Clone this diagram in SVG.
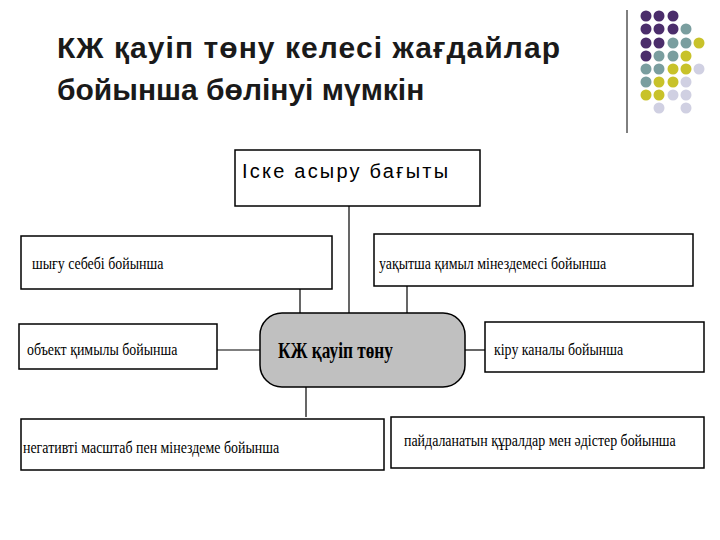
<svg xmlns="http://www.w3.org/2000/svg" width="720" height="540" viewBox="0 0 720 540">
<style>
.b{fill:#fff;stroke:#000;stroke-width:1.5}
.t{font-family:"Liberation Serif",serif;font-size:16px;fill:#000}
.c{stroke:#000;stroke-width:1.2;fill:none}
.p{fill:#4b2d6b}.q{fill:#7a9e9f}.y{fill:#c8c22a}.l{fill:#d0d0e2}
</style>
<rect width="720" height="540" fill="#fff"/>
<g id="title" font-family="Liberation Sans,sans-serif" font-size="30" font-weight="bold" fill="#1a1a1a">
<text x="57" y="58" textLength="503">КЖ қауіп төну келесі жағдайлар</text>
<text x="57" y="100">бойынша бөлінуі мүмкін</text>
</g>
<g id="deco">
<line x1="627" y1="10" x2="627" y2="133" stroke="#000" stroke-width="1"/>
<circle class="p" cx="646" cy="16" r="5.5"/><circle class="p" cx="659" cy="16" r="5.5"/><circle class="p" cx="673" cy="16" r="5.5"/>
<circle class="p" cx="646" cy="29" r="5.5"/><circle class="p" cx="659" cy="29" r="5.5"/><circle class="p" cx="673" cy="29" r="5.5"/><circle class="q" cx="686" cy="29" r="5.5"/>
<circle class="p" cx="646" cy="43" r="5.5"/><circle class="p" cx="659" cy="43" r="5.5"/><circle class="q" cx="673" cy="43" r="5.5"/><circle class="q" cx="686" cy="43" r="5.5"/><circle class="y" cx="699" cy="43" r="5.5"/>
<circle class="p" cx="646" cy="56" r="5.5"/><circle class="q" cx="659" cy="56" r="5.5"/><circle class="q" cx="673" cy="56" r="5.5"/><circle class="y" cx="686" cy="56" r="5.5"/>
<circle class="q" cx="646" cy="69" r="5.5"/><circle class="q" cx="659" cy="69" r="5.5"/><circle class="y" cx="673" cy="69" r="5.5"/><circle class="y" cx="686" cy="69" r="5.5"/><circle class="l" cx="699" cy="69" r="5.5"/>
<circle class="q" cx="646" cy="82" r="5.5"/><circle class="y" cx="659" cy="82" r="5.5"/><circle class="y" cx="673" cy="82" r="5.5"/><circle class="l" cx="686" cy="82" r="5.5"/>
<circle class="y" cx="646" cy="95" r="5.5"/><circle class="y" cx="659" cy="95" r="5.5"/><circle class="l" cx="673" cy="95" r="5.5"/><circle class="l" cx="686" cy="95" r="5.5"/>
<circle class="l" cx="659" cy="108" r="5.5"/><circle class="l" cx="686" cy="108" r="5.5"/>
</g>
<g id="connectors">
<line class="c" x1="349" y1="206" x2="349" y2="313"/>
<line class="c" x1="300" y1="289" x2="300" y2="313"/>
<line class="c" x1="407" y1="286" x2="407" y2="313"/>
<line class="c" x1="217" y1="350" x2="261" y2="350"/>
<line class="c" x1="465" y1="350" x2="485" y2="350" stroke-width="2"/>
<line class="c" x1="306" y1="387" x2="306" y2="417"/>
</g>
<g id="top"><rect class="b" x="235" y="150" width="245" height="56"/><text x="242" y="178" font-family="Liberation Sans,sans-serif" font-size="20" textLength="206">Іске асыру бағыты</text></g>
<g id="center"><rect x="260" y="313" width="205" height="74" rx="22" fill="#c0c0c0" stroke="#000" stroke-width="1.5"/><text x="278" y="358" font-family="Liberation Serif,serif" font-size="23" font-weight="bold" transform="translate(278 0) scale(0.75 1) translate(-278 0)">КЖ қауіп төну</text></g>
<g id="n1"><rect class="b" x="21" y="236" width="311" height="53"/><text class="t" x="32" y="269" transform="translate(32 0) scale(0.87 1) translate(-32 0)">шығу себебі бойынша</text></g>
<g id="n2"><rect class="b" x="374" y="234" width="319" height="52"/><text class="t" x="379" y="269" transform="translate(379 0) scale(0.87 1) translate(-379 0)">уақытша қимыл мінездемесі бойынша</text></g>
<g id="n3"><rect class="b" x="19" y="324" width="198" height="45"/><text class="t" x="27" y="355" transform="translate(27 0) scale(0.87 1) translate(-27 0)">объект қимылы бойынша</text></g>
<g id="n4"><rect class="b" x="485" y="322" width="219" height="50"/><text class="t" x="494" y="355" transform="translate(494 0) scale(0.87 1) translate(-494 0)">кіру каналы бойынша</text></g>
<g id="n5"><rect class="b" x="21" y="419" width="363" height="51"/><text class="t" x="23" y="453" transform="translate(23 0) scale(0.87 1) translate(-23 0)">негативті масштаб пен мінездеме бойынша</text></g>
<g id="n6"><rect class="b" x="391" y="417" width="313" height="51"/><text class="t" x="404" y="446" transform="translate(404 0) scale(0.87 1) translate(-404 0)">пайдаланатын құралдар мен әдістер бойынша</text></g>
</svg>
